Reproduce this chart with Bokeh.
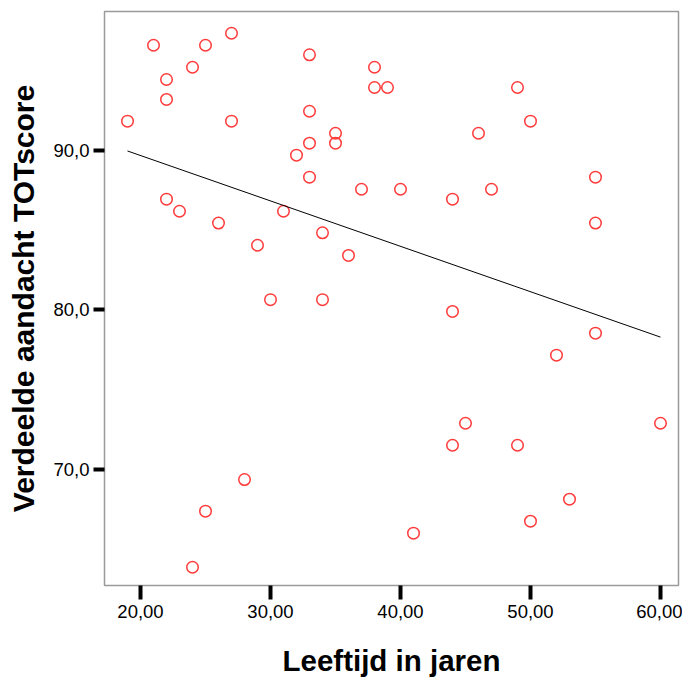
from bokeh.plotting import figure
from bokeh.models import ColumnDataSource, FixedTicker, Range1d
from bokeh.embed import file_html
from bokeh.resources import INLINE

# Data
age = [19, 21, 22, 22, 24, 25, 27, 27, 33, 33, 33, 32, 35, 35, 33, 22, 23, 26, 31, 34,
       29, 36, 30, 34, 38, 38, 39, 37, 40, 46, 49, 50, 44, 47, 55, 55, 44, 52, 55, 45,
       44, 49, 60, 53, 50, 41, 28, 25, 24]
score = [91.84, 96.60, 94.45, 93.20, 95.22, 96.60, 97.35, 91.84, 96.00, 92.46, 90.46, 89.71,
         91.08, 90.46, 88.33, 86.95, 86.19, 85.45, 86.19, 84.84, 84.06, 83.42, 80.65, 80.65,
         95.22, 93.95, 93.95, 87.57, 87.57, 91.08, 93.95, 91.84, 86.95, 87.57, 88.33, 85.45,
         79.91, 77.17, 78.55, 72.90, 71.52, 71.52, 72.90, 68.14, 66.76, 66.01, 69.37, 67.39,
         63.87]
fit_age = [19, 60]
fit_score = [89.97, 78.30]

x_ticks = [20, 30, 40, 50, 60]
x_tick_labels = ["20,00", "30,00", "40,00", "50,00", "60,00"]
y_ticks = [70, 80, 90]
y_tick_labels = ["70,0", "80,0", "90,0"]

x_title = "Leeftijd in jaren"
y_title = "Verdeelde aandacht TOTscore"

FONT = "Liberation Sans"

p = figure(width=682, height=682, output_backend="svg", toolbar_location=None,
           x_range=Range1d(17.23, 61.385), y_range=Range1d(62.727, 98.715),
           min_border_left=104, min_border_right=4, min_border_top=11, min_border_bottom=97)

p.background_fill_color = "white"
p.border_fill_color = "white"
p.outline_line_color = "#9a9a9a"
p.outline_line_width = 1.5
p.xgrid.visible = False
p.ygrid.visible = False

src = ColumnDataSource(dict(age=age, score=score))
p.scatter("age", "score", source=src, marker="circle", size=11.5,
          fill_color=None, line_color="#ff3b3b", line_width=1.5)

p.line(fit_age, fit_score, line_color="black", line_width=1)

# X axis
xa = p.xaxis[0]
xa.ticker = FixedTicker(ticks=x_ticks)
xa.major_label_overrides = {t: l for t, l in zip(x_ticks, x_tick_labels)}
xa.axis_line_color = None
xa.minor_tick_line_color = None
xa.major_tick_in = 0
xa.major_tick_out = 14
xa.major_tick_line_width = 4
xa.major_tick_line_color = "black"
xa.major_label_standoff = 5
xa.major_label_text_font = FONT
xa.major_label_text_font_size = "18.5px"
xa.major_label_text_color = "black"
xa.axis_label = x_title
xa.axis_label_text_font = FONT
xa.axis_label_text_font_style = "bold"
xa.axis_label_text_font_size = "29.5px"
xa.axis_label_text_color = "black"
xa.axis_label_standoff = 23

# Y axis
ya = p.yaxis[0]
ya.ticker = FixedTicker(ticks=y_ticks)
ya.major_label_overrides = {t: l for t, l in zip(y_ticks, y_tick_labels)}
ya.axis_line_color = None
ya.minor_tick_line_color = None
ya.major_tick_in = 0
ya.major_tick_out = 11
ya.major_tick_line_width = 4
ya.major_tick_line_color = "black"
ya.major_label_standoff = 4
ya.major_label_text_font = FONT
ya.major_label_text_font_size = "18.5px"
ya.major_label_text_color = "black"
ya.axis_label = y_title
ya.axis_label_text_font = FONT
ya.axis_label_text_font_style = "bold"
ya.axis_label_text_font_size = "30px"
ya.axis_label_text_color = "black"
ya.axis_label_standoff = 10

open("out.html", "w").write(file_html(p, INLINE))
